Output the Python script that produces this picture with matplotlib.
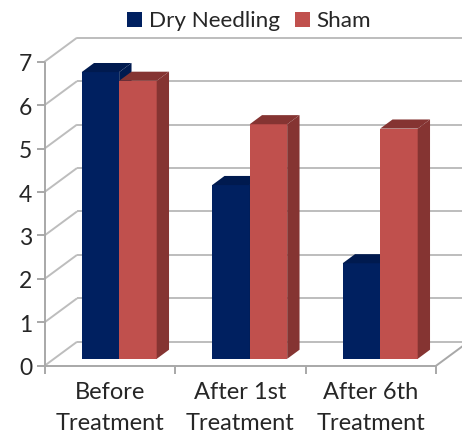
import numpy as np
import matplotlib
matplotlib.use('Agg')
import matplotlib.pyplot as plt
from matplotlib.patches import Patch, Polygon

categories = ['Before\nTreatment', 'After 1st\nTreatment', 'After 6th\nTreatment']
dry_needling = [6.6, 4.0, 2.2]
sham = [6.4, 5.4, 5.3]
y_ticks = [0, 1, 2, 3, 4, 5, 6, 7]

NAVY = '#002060'
NAVY_DARK = '#001a4f'
RED = '#c0504d'
RED_DARK = '#853432'
GRID = '#bdbdbd'
AXIS = '#a8a8a8'
TEXT = '#262626'

plt.rcParams['font.family'] = ['Lato', 'DejaVu Sans']

W, H = 462, 433
fig = plt.figure(figsize=(W / 100, H / 100), dpi=100)
# 前平面的像素范围
left, right, top, bottom = 44.5, 436.0, 61.7, 365.8
ax = fig.add_axes([left / W, 1 - bottom / H, (right - left) / W, (bottom - top) / H])
ax.set_xlim(0, 3)
ax.set_ylim(0, 7)
ax.axis('off')

# 透视偏移（数据单位）
depth_x = 32.5 / ((right - left) / 3)
depth_y = 24.0 / ((bottom - top) / 7)
bar_w = 0.2874
bar_d0, bar_d1 = 0.29, 0.67


def line(xs, ys, color, lw=1.4, z=1):
    ax.plot(xs, ys, color=color, lw=lw, zorder=z, clip_on=False, solid_capstyle='butt')


def draw_bar(x0, value, front, dark, z):
    # 一根三维柱子：正面、顶面、侧面
    x1 = x0 + bar_w
    fx, fy = bar_d0 * depth_x, bar_d0 * depth_y
    bx, by = bar_d1 * depth_x, bar_d1 * depth_y
    faces = [
        ([(x0 + fx, fy), (x1 + fx, fy), (x1 + fx, value + fy), (x0 + fx, value + fy)], front),
        ([(x0 + fx, value + fy), (x1 + fx, value + fy), (x1 + bx, value + by), (x0 + bx, value + by)], dark),
        ([(x1 + fx, fy), (x1 + bx, by), (x1 + bx, value + by), (x1 + fx, value + fy)], dark),
    ]
    for pts, c in faces:
        ax.add_patch(Polygon(pts, closed=True, facecolor=c, edgecolor='none', zorder=z, clip_on=False))


# 网格线
for v in y_ticks:
    line([0, depth_x], [v, v + depth_y], GRID)
    line([depth_x, 3 + depth_x], [v + depth_y, v + depth_y], GRID)

# 坐标轴
line([0, 0], [0, 7], AXIS)
line([0, 3], [0, 0], AXIS, z=2)
line([3, 3 + depth_x], [0, depth_y], AXIS)
tick_x = 7.5 / ((right - left) / 3)
tick_y = 8.0 / ((bottom - top) / 7)
for v in y_ticks:
    line([-tick_x, 0], [v, v], AXIS)
    ax.text(-tick_x - 0.035, v - 0.07, str(v), ha='right', va='center', fontsize=16.5, color=TEXT)
for i in range(4):
    line([i, i], [0, -tick_y], AXIS)

for i, label in enumerate(categories):
    ax.text(i + 0.5, -0.37, label, ha='center', va='top', fontsize=17, color=TEXT,
            linespacing=1.58)

for i in range(3):
    center = i + 0.5
    draw_bar(center - bar_w, dry_needling[i], NAVY, NAVY_DARK, 3 + i)
    draw_bar(center, sham[i], RED, RED_DARK, 3.5 + i)

handles = [Patch(facecolor=NAVY, label='Dry Needling'), Patch(facecolor=RED, label='Sham')]
fig.legend(handles=handles, ncol=2, loc='center', bbox_to_anchor=(249 / W, 1 - 21 / H),
           frameon=False, fontsize=16.2, handlelength=0.66, handleheight=0.66,
           handletextpad=0.31, columnspacing=0.67, borderpad=0, labelcolor=TEXT)

fig.savefig('out.png', dpi=100)
